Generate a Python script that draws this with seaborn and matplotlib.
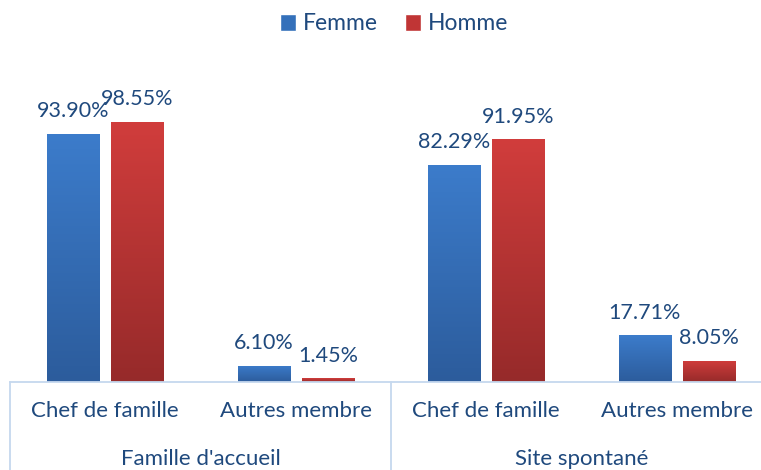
import numpy as np
import pandas as pd
import matplotlib
matplotlib.use("Agg")
import matplotlib.pyplot as plt
from matplotlib.colors import LinearSegmentedColormap
from matplotlib.patches import Patch
import seaborn as sns

# ---- data ----
groups = ["Famille d'accueil", "Site spontané"]
categories = ["Chef de famille", "Autres membre"]
series = ["Femme", "Homme"]
femme = [93.90, 6.10, 82.29, 17.71]
homme = [98.55, 1.45, 91.95, 8.05]

keys = [f"{g}|{c}" for g in groups for c in categories]
df = pd.DataFrame({
    "key": keys * 2,
    "sexe": ["Femme"] * 4 + ["Homme"] * 4,
    "valeur": femme + homme,
})

text_color = "#1F497D"
axis_color = "#C5D8EE"
# (bottom, top) of the bar gradient
grad_colors = {"Femme": ("#2C5C9C", "#3C7CCB"), "Homme": ("#962A2A", "#D13D3C")}
legend_colors = {"Femme": "#3470BA", "Homme": "#C03535"}

sns.set_style("white")
plt.rcParams["font.family"] = ["Lato", "DejaVu Sans"]

fig = plt.figure(figsize=(7.61, 4.70), dpi=100)
ax = fig.add_axes([10 / 761, 88 / 470, 762 / 761, 317 / 470])

sns.barplot(data=df, x="key", y="valeur", hue="sexe", order=keys,
            hue_order=series, width=0.674, gap=0.1875, ax=ax,
            legend=False, errorbar=None, saturation=1)

ax.set_xlim(-0.5, 3.5)
ax.set_ylim(0, 120)

# value labels
for cont in ax.containers:
    ax.bar_label(cont, fmt="%.2f%%", padding=9, fontsize=15.5, color=text_color)

# replace flat fill with a vertical gradient
grad = np.linspace(0, 1, 256).reshape(-1, 1)
for cont, name in zip(ax.containers, series):
    cmap = LinearSegmentedColormap.from_list(name, grad_colors[name])
    for bar in cont:
        x, w, h = bar.get_x(), bar.get_width(), bar.get_height()
        im = ax.imshow(grad, extent=[x, x + w, 0, h], origin="lower",
                       cmap=cmap, aspect="auto", zorder=bar.get_zorder())
        im.set_clip_path(bar)
        bar.set_facecolor("none")
        bar.set_edgecolor("none")

ax.set_xlim(-0.5, 3.5)
ax.set_ylim(0, 120)

# axes styling
for s in ["top", "right", "left"]:
    ax.spines[s].set_visible(False)
ax.spines["bottom"].set_color(axis_color)
ax.spines["bottom"].set_linewidth(1.3)
ax.set_yticks([])
ax.set_xlabel("")
ax.set_ylabel("")
ax.set_xticks(range(4))
ax.set_xticklabels(categories * 2, fontsize=16, color=text_color)
ax.tick_params(axis="x", length=0, pad=14)

# multi-level category axis: separators and group labels
trans = ax.get_xaxis_transform()
for xs in [-0.5, 1.5, 3.5]:
    ax.plot([xs, xs], [0, -0.3], color=axis_color, lw=1.3,
            transform=trans, clip_on=False)
for i, g in enumerate(groups):
    ax.text(2 * i + 0.5, -0.243, g, transform=trans, ha="center", va="center",
            fontsize=16, color=text_color)

# legend at the top
handles = [Patch(facecolor=legend_colors[s], label=s) for s in series]
leg = fig.legend(handles=handles, loc="center", bbox_to_anchor=(394 / 761, 1 - 24 / 470),
                 ncol=2, frameon=False, fontsize=16.5, handlelength=0.7,
                 handleheight=0.7, handletextpad=0.3, columnspacing=1.2)
for t in leg.get_texts():
    t.set_color(text_color)

fig.savefig("out.png", dpi=100)
